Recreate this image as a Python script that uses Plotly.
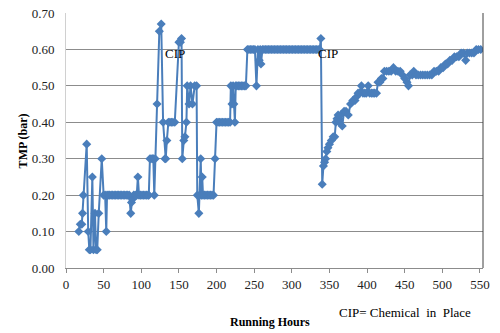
import plotly.graph_objects as go

hours = [
    17, 19, 21, 22, 23, 27.5, 29.5, 31, 32.5, 35, 36.5, 38.5, 40, 41.5, 43.5, 47.5, 50, 52, 53.5, 54.5,
    56, 58, 60, 62, 64, 66, 68, 70, 72, 74, 76, 78, 80, 82, 84, 86, 87, 88, 89, 90, 92, 94, 95.5, 97, 99,
    101, 103, 105, 107, 109, 110, 111.5, 113, 115, 116, 117.3, 118.5, 121, 124, 126.5, 129, 131.5, 132.5,
    134, 136, 138, 140, 142, 144.5, 150, 152, 153.5, 154.5, 156.5, 158, 160, 161, 163.5, 165.5, 168,
    171, 173.5, 174.4, 176.5, 177.5, 179, 180, 181, 182, 184, 186, 188, 190, 192, 194, 196, 198, 200,
    202, 204, 206, 208, 210, 212, 214, 216, 218, 219, 220.5, 222, 223, 224.4, 225.5, 227, 229, 231, 233,
    235, 237, 239, 241, 243, 245, 247, 249, 251, 253, 255, 256.7, 258, 259, 261, 263, 265, 267, 269,
    271, 273, 275, 277, 279, 281, 283, 285, 287, 289, 291, 293, 295, 297, 299, 301, 303, 305, 307, 309,
    311, 313, 315, 317, 319, 321, 323, 325, 327, 329, 331, 333, 335, 337, 338.6, 340.4, 342, 343.5, 345,
    346.5, 348, 350, 352.5, 355, 357, 358.5, 360, 361.5, 363, 365, 367, 369.5, 372, 375, 378, 381, 384,
    386, 388, 390, 392.5, 394.5, 397, 399, 401.5, 403.5, 406, 408, 410, 412.5, 414.5, 417, 419, 421, 423,
    426, 429, 432, 435, 438, 441, 444, 447, 450, 453, 455, 457, 460, 462, 465, 468, 471, 474, 477, 480,
    483, 486, 489, 492, 495, 498, 501, 504, 507, 510, 513, 516, 519, 522, 525, 528, 531, 533, 536, 539,
    542, 545, 548, 551,
]

tmp_bar = [
    0.10, 0.12, 0.12, 0.15, 0.20, 0.34, 0.10, 0.05, 0.05, 0.25, 0.05, 0.15, 0.05, 0.05, 0.15, 0.30, 0.20, 0.20, 0.10, 0.20,
    0.20, 0.20, 0.20, 0.20, 0.20, 0.20, 0.20, 0.20, 0.20, 0.20, 0.20, 0.20, 0.20, 0.20, 0.20, 0.15, 0.18, 0.19, 0.19, 0.20, 0.20, 0.20, 0.25, 0.20, 0.20,
    0.20, 0.20, 0.20, 0.20, 0.20, 0.20, 0.30, 0.30, 0.30, 0.30, 0.20, 0.30, 0.45, 0.65, 0.67, 0.40, 0.30, 0.30,
    0.35, 0.40, 0.40, 0.40, 0.40, 0.40, 0.62, 0.62, 0.63, 0.30, 0.35, 0.36, 0.40, 0.50, 0.45, 0.50, 0.45,
    0.50, 0.50, 0.20, 0.15, 0.20, 0.30, 0.20, 0.25, 0.20, 0.20, 0.20, 0.20, 0.20, 0.20, 0.20, 0.20, 0.30, 0.40,
    0.40, 0.40, 0.40, 0.40, 0.40, 0.40, 0.40, 0.40, 0.40, 0.50, 0.45, 0.50, 0.45, 0.40, 0.50, 0.50, 0.50, 0.50, 0.50,
    0.50, 0.50, 0.50, 0.60, 0.60, 0.60, 0.60, 0.60, 0.60, 0.50, 0.60, 0.57, 0.60, 0.56, 0.60, 0.60, 0.60, 0.60, 0.60,
    0.60, 0.60, 0.60, 0.60, 0.60, 0.60, 0.60, 0.60, 0.60, 0.60, 0.60, 0.60, 0.60, 0.60, 0.60, 0.60, 0.60, 0.60, 0.60, 0.60,
    0.60, 0.60, 0.60, 0.60, 0.60, 0.60, 0.60, 0.60, 0.60, 0.60, 0.60, 0.60, 0.60, 0.60, 0.63, 0.23, 0.28, 0.29, 0.30,
    0.32, 0.33, 0.34, 0.35, 0.36, 0.36, 0.40, 0.41, 0.42, 0.40, 0.42, 0.39, 0.43, 0.43, 0.42, 0.45, 0.46, 0.46,
    0.47, 0.48, 0.48, 0.50, 0.48, 0.48, 0.48, 0.50, 0.48, 0.48, 0.48, 0.48, 0.48, 0.51, 0.51, 0.52, 0.52, 0.54,
    0.54, 0.54, 0.54, 0.55, 0.54, 0.54, 0.54, 0.53, 0.52, 0.51, 0.50, 0.53, 0.53, 0.54, 0.53, 0.53, 0.53, 0.53, 0.53, 0.53,
    0.53, 0.53, 0.54, 0.54, 0.54, 0.55, 0.55, 0.56, 0.56, 0.57, 0.57, 0.58, 0.58, 0.58, 0.59, 0.59, 0.57, 0.59, 0.59, 0.59,
    0.59, 0.60, 0.60, 0.60,
]

x_ticks = [0, 50, 100, 150, 200, 250, 300, 350, 400, 450, 500, 550]
y_ticks = [0.0, 0.1, 0.2, 0.3, 0.4, 0.5, 0.6, 0.7]

cip_hours = [128.8, 332]
cip_level = [0.59, 0.59]

FONT = "Liberation Serif, Times New Roman, DejaVu Serif, serif"
BLUE = "#4A7EBB"

fig = go.Figure()
fig.add_trace(go.Scatter(
    x=hours, y=tmp_bar, mode="lines+markers",
    line=dict(color=BLUE, width=2),
    marker=dict(symbol="diamond", size=7, color=BLUE),
    showlegend=False,
))

for cx, cy in zip(cip_hours, cip_level):
    fig.add_annotation(x=cx, y=cy, text="CIP", showarrow=False, xanchor="left",
                       yanchor="middle", font=dict(family=FONT, size=13, color="black"))

fig.add_annotation(xref="paper", yref="paper", x=0.489, y=-0.212, yanchor="middle",
                   text="<b>Running Hours</b>", showarrow=False,
                   font=dict(family=FONT, size=12, color="black"))
fig.add_annotation(xref="paper", yref="paper", x=-0.125, y=0.5, textangle=-90,
                   text="<b>TMP (bar)</b>", showarrow=False,
                   font=dict(family=FONT, size=12, color="black"))
fig.add_annotation(xref="paper", yref="paper", x=0.65, y=-0.176, xanchor="left", yanchor="middle",
                   text="CIP= Chemical&nbsp; in&nbsp; Place", showarrow=False,
                   font=dict(family=FONT, size=13, color="black"))

fig.add_shape(type="line", xref="paper", yref="paper", x0=1, x1=1, y0=0, y1=1,
              line=dict(color="#404040", width=1))

fig.update_layout(
    width=500, height=333,
    margin=dict(l=66, r=17, t=13, b=65, autoexpand=False),
    paper_bgcolor="white", plot_bgcolor="white",
    font=dict(family=FONT, size=13, color="#222"),
)
fig.update_xaxes(
    range=[0, 554], tickvals=x_ticks, showgrid=False, zeroline=False,
    showline=True, linecolor="#8c8c8c", linewidth=1, automargin=False,
    ticks="outside", ticklen=4, tickcolor="#8c8c8c",
    tickfont=dict(family=FONT, size=13, color="#222"),
)
fig.update_yaxes(
    range=[0, 0.70], tickvals=y_ticks, tickformat=".2f", showgrid=True,
    gridcolor="#8c8c8c", gridwidth=1, zeroline=False, automargin=False,
    showline=True, linecolor="#d0d0d0", linewidth=1,
    ticks="", ticklabelstandoff=8,
    tickfont=dict(family=FONT, size=13, color="#222"),
)

fig.write_html("out.html", config={"displayModeBar": False},
               post_script="document.body.style.margin='0';")
